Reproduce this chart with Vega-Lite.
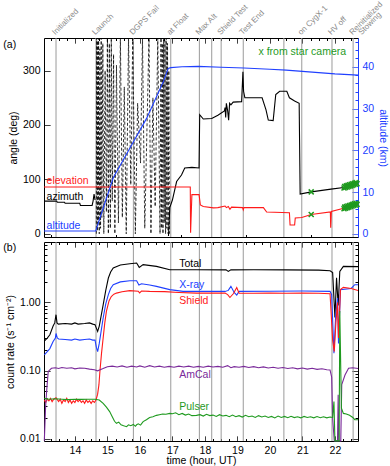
{
"$schema": "https://vega.github.io/schema/vega-lite/v6.json",
"padding": {"left": 2, "top": 0, "right": 2, "bottom": 0},
"spacing": 5,
"bounds": "flush",
"config": {
  "view": {"stroke": "black", "strokeWidth": 1},
  "font": "Liberation Sans",
  "axis": {"grid": false, "domain": false, "labelFont": "Liberation Sans", "titleFont": "Liberation Sans", "labelFontSize": 10.5, "titleFontSize": 10.5, "titleFontWeight": "normal", "tickColor": "black", "labelColor": "black", "titleColor": "black", "minExtent": 0},
  "text": {"font": "Liberation Sans"}
},
"datasets": {
  "events": [
    {"h": 13.42}, {"h": 14.65}, {"h": 15.80}, {"h": 16.95}, {"h": 17.83}, {"h": 18.21},
    {"h": 18.50}, {"h": 19.18}, {"h": 20.43}, {"h": 20.98}, {"h": 21.91}, {"h": 22.56}
  ],
  "elabels": [
    {"h": 13.42, "label": "Initialized"}, {"h": 14.65, "label": "Launch"}, {"h": 15.80, "label": "DGPS Fail"},
    {"h": 16.95, "label": "at Float"}, {"h": 17.83, "label": "Max Alt"}, {"h": 18.50, "label": "Shield Test"},
    {"h": 19.18, "label": "Test End"}, {"h": 20.98, "label": "on CygX-1"}, {"h": 21.91, "label": "HV off"},
    {"h": 22.56, "label": "Reinitialized"}, {"h": 22.84, "label": "Stowing"}
  ],
  "az": [
    {"seg": "pre", "h": 13.05, "deg": 60}, {"seg": "pre", "h": 13.44, "deg": 60}, {"seg": "pre", "h": 13.46, "deg": 58},
    {"seg": "pre", "h": 13.68, "deg": 58}, {"seg": "pre", "h": 13.70, "deg": 56}, {"seg": "pre", "h": 14.15, "deg": 56},
    {"seg": "pre", "h": 14.17, "deg": 52}, {"seg": "pre", "h": 14.53, "deg": 52}, {"seg": "pre", "h": 14.56, "deg": 60},
    {"seg": "pre", "h": 14.59, "deg": 73}, {"seg": "pre", "h": 14.62, "deg": 62},
    {"seg": "spin", "h": 14.66, "deg": 0}, {"seg": "spin", "h": 14.67, "deg": 360}, {"seg": "spin", "h": 14.69, "deg": 5},
    {"seg": "spin", "h": 14.70, "deg": 355}, {"seg": "spin", "h": 14.72, "deg": 20}, {"seg": "spin", "h": 14.73, "deg": 360},
    {"seg": "spin", "h": 14.75, "deg": 0}, {"seg": "spin", "h": 14.77, "deg": 340}, {"seg": "spin", "h": 14.79, "deg": 10},
    {"seg": "spin", "h": 14.81, "deg": 360}, {"seg": "spin", "h": 14.83, "deg": 30}, {"seg": "spin", "h": 14.86, "deg": 350},
    {"seg": "spin", "h": 14.89, "deg": 0}, {"seg": "spin", "h": 14.93, "deg": 300}, {"seg": "spin", "h": 14.97, "deg": 40},
    {"seg": "spin", "h": 15.00, "deg": 360}, {"seg": "spin", "h": 15.03, "deg": 0}, {"seg": "spin", "h": 15.06, "deg": 350},
    {"seg": "spin", "h": 15.09, "deg": 10}, {"seg": "spin", "h": 15.12, "deg": 360}, {"seg": "spin", "h": 15.15, "deg": 60},
    {"seg": "spin", "h": 15.19, "deg": 330}, {"seg": "spin", "h": 15.23, "deg": 0}, {"seg": "spin", "h": 15.28, "deg": 310},
    {"seg": "spin", "h": 15.34, "deg": 20}, {"seg": "spin", "h": 15.40, "deg": 360}, {"seg": "spin", "h": 15.46, "deg": 30},
    {"seg": "spin", "h": 15.52, "deg": 270}, {"seg": "spin", "h": 15.58, "deg": 0}, {"seg": "spin", "h": 15.65, "deg": 360},
    {"seg": "spin", "h": 15.72, "deg": 90}, {"seg": "spin", "h": 15.78, "deg": 360}, {"seg": "spin", "h": 15.86, "deg": 0},
    {"seg": "spin", "h": 15.93, "deg": 240}, {"seg": "spin", "h": 16.02, "deg": 130}, {"seg": "spin", "h": 16.08, "deg": 360},
    {"seg": "spin", "h": 16.15, "deg": 10}, {"seg": "spin", "h": 16.22, "deg": 200}, {"seg": "spin", "h": 16.28, "deg": 360},
    {"seg": "spin", "h": 16.34, "deg": 0}, {"seg": "spin", "h": 16.40, "deg": 250}, {"seg": "spin", "h": 16.47, "deg": 50},
    {"seg": "spin", "h": 16.55, "deg": 360}, {"seg": "spin", "h": 16.62, "deg": 0}, {"seg": "spin", "h": 16.65, "deg": 360},
    {"seg": "spin", "h": 16.67, "deg": 10}, {"seg": "spin", "h": 16.69, "deg": 350}, {"seg": "spin", "h": 16.71, "deg": 0},
    {"seg": "spin", "h": 16.73, "deg": 360}, {"seg": "spin", "h": 16.75, "deg": 20}, {"seg": "spin", "h": 16.77, "deg": 355},
    {"seg": "spin", "h": 16.79, "deg": 0}, {"seg": "spin", "h": 16.81, "deg": 360}, {"seg": "spin", "h": 16.83, "deg": 10},
    {"seg": "spin", "h": 16.85, "deg": 350}, {"seg": "spin", "h": 16.87, "deg": 0}, {"seg": "spin", "h": 16.89, "deg": 300},
    {"seg": "spin", "h": 16.91, "deg": 0},
    {"seg": "post", "h": 16.88, "deg": -4}, {"seg": "post", "h": 16.92, "deg": 48}, {"seg": "post", "h": 17.0, "deg": 62},
    {"seg": "post", "h": 17.13, "deg": 96}, {"seg": "post", "h": 17.28, "deg": 108}, {"seg": "post", "h": 17.38, "deg": 121},
    {"seg": "post", "h": 17.60, "deg": 122}, {"seg": "post", "h": 17.82, "deg": 121}, {"seg": "post", "h": 17.84, "deg": 219},
    {"seg": "post", "h": 17.95, "deg": 211}, {"seg": "post", "h": 18.21, "deg": 212}, {"seg": "post", "h": 18.40, "deg": 218},
    {"seg": "post", "h": 18.60, "deg": 226}, {"seg": "post", "h": 18.62, "deg": 232}, {"seg": "post", "h": 18.64, "deg": 214},
    {"seg": "post", "h": 18.66, "deg": 240}, {"seg": "post", "h": 18.70, "deg": 226}, {"seg": "post", "h": 18.73, "deg": 209},
    {"seg": "post", "h": 18.76, "deg": 240}, {"seg": "post", "h": 18.80, "deg": 237}, {"seg": "post", "h": 18.87, "deg": 242},
    {"seg": "post", "h": 19.13, "deg": 243}, {"seg": "post", "h": 19.17, "deg": 298}, {"seg": "post", "h": 19.19, "deg": 262},
    {"seg": "post", "h": 19.23, "deg": 250}, {"seg": "post", "h": 19.76, "deg": 250}, {"seg": "post", "h": 19.88, "deg": 228},
    {"seg": "post", "h": 19.95, "deg": 209}, {"seg": "post", "h": 20.10, "deg": 208}, {"seg": "post", "h": 20.18, "deg": 256},
    {"seg": "post", "h": 20.30, "deg": 262}, {"seg": "post", "h": 20.52, "deg": 262}, {"seg": "post", "h": 20.60, "deg": 250},
    {"seg": "post", "h": 20.76, "deg": 244}, {"seg": "post", "h": 20.90, "deg": 240}, {"seg": "post", "h": 20.93, "deg": 73},
    {"seg": "post", "h": 21.27, "deg": 77}, {"seg": "post", "h": 21.88, "deg": 82}, {"seg": "post", "h": 22.27, "deg": 85},
    {"seg": "post", "h": 22.70, "deg": 90}
  ],
  "el": [
    {"h": 13.05, "deg": 86}, {"h": 17.55, "deg": 86}, {"h": 17.56, "deg": 2}, {"h": 17.60, "deg": 72}, {"h": 17.82, "deg": 72},
    {"h": 17.86, "deg": 53}, {"h": 17.95, "deg": 50}, {"h": 18.26, "deg": 47.6}, {"h": 18.40, "deg": 48}, {"h": 18.62, "deg": 51},
    {"h": 18.66, "deg": 48}, {"h": 18.72, "deg": 50}, {"h": 18.77, "deg": 45}, {"h": 18.82, "deg": 49}, {"h": 19.16, "deg": 48},
    {"h": 19.18, "deg": 44}, {"h": 19.20, "deg": 48}, {"h": 19.80, "deg": 48}, {"h": 19.90, "deg": 40}, {"h": 20.60, "deg": 38.5},
    {"h": 20.62, "deg": 16}, {"h": 20.76, "deg": 16}, {"h": 20.78, "deg": 29}, {"h": 20.98, "deg": 30}, {"h": 21.27, "deg": 35.5},
    {"h": 21.86, "deg": 40}, {"h": 21.87, "deg": 11}, {"h": 21.89, "deg": 41}, {"h": 22.27, "deg": 47}, {"h": 22.70, "deg": 54}
  ],
  "star": [
    {"h": 21.27, "deg": 77}, {"h": 21.27, "deg": 35.5},
    {"h": 22.28, "deg": 84}, {"h": 22.30, "deg": 87}, {"h": 22.33, "deg": 85}, {"h": 22.35, "deg": 88}, {"h": 22.38, "deg": 86},
    {"h": 22.40, "deg": 89}, {"h": 22.43, "deg": 87}, {"h": 22.45, "deg": 90}, {"h": 22.48, "deg": 88}, {"h": 22.50, "deg": 91},
    {"h": 22.53, "deg": 89}, {"h": 22.55, "deg": 92}, {"h": 22.58, "deg": 90}, {"h": 22.60, "deg": 93}, {"h": 22.63, "deg": 91},
    {"h": 22.65, "deg": 94}, {"h": 22.68, "deg": 92},
    {"h": 22.28, "deg": 46}, {"h": 22.30, "deg": 49}, {"h": 22.33, "deg": 47}, {"h": 22.35, "deg": 50}, {"h": 22.38, "deg": 48},
    {"h": 22.40, "deg": 51}, {"h": 22.43, "deg": 49}, {"h": 22.45, "deg": 52}, {"h": 22.48, "deg": 50}, {"h": 22.50, "deg": 53},
    {"h": 22.53, "deg": 51}, {"h": 22.55, "deg": 54}, {"h": 22.58, "deg": 52}, {"h": 22.60, "deg": 55}, {"h": 22.63, "deg": 53},
    {"h": 22.65, "deg": 56}, {"h": 22.68, "deg": 54}
  ],
  "alt": [
    {"h": 13.05, "km": 0.65}, {"h": 14.64, "km": 0.65}, {"h": 15.18, "km": 13.4}, {"h": 15.69, "km": 20.5},
    {"h": 16.21, "km": 27.7}, {"h": 16.72, "km": 36.4}, {"h": 16.87, "km": 39.6}, {"h": 16.95, "km": 39.8},
    {"h": 17.3, "km": 40.0}, {"h": 17.8, "km": 40.1}, {"h": 18.5, "km": 39.9}, {"h": 19.2, "km": 39.7},
    {"h": 20.0, "km": 39.4}, {"h": 20.5, "km": 39.2}, {"h": 21.0, "km": 38.9}, {"h": 21.5, "km": 38.6},
    {"h": 22.0, "km": 38.3}, {"h": 22.71, "km": 38.0}
  ],
  "rates": [
    {"s": "Total", "h": 13.06, "v": 0.27}, {"s": "Total", "h": 13.15, "v": 0.3}, {"s": "Total", "h": 13.23, "v": 0.335},
    {"s": "Total", "h": 13.33, "v": 0.45}, {"s": "Total", "h": 13.38, "v": 0.5}, {"s": "Total", "h": 13.42, "v": 0.66},
    {"s": "Total", "h": 13.45, "v": 0.5}, {"s": "Total", "h": 13.49, "v": 0.48}, {"s": "Total", "h": 13.7, "v": 0.49},
    {"s": "Total", "h": 13.9, "v": 0.48}, {"s": "Total", "h": 14.0, "v": 0.5}, {"s": "Total", "h": 14.1, "v": 0.48},
    {"s": "Total", "h": 14.3, "v": 0.49}, {"s": "Total", "h": 14.45, "v": 0.5}, {"s": "Total", "h": 14.55, "v": 0.48},
    {"s": "Total", "h": 14.62, "v": 0.47}, {"s": "Total", "h": 14.66, "v": 0.42}, {"s": "Total", "h": 14.70, "v": 0.375},
    {"s": "Total", "h": 14.75, "v": 0.45}, {"s": "Total", "h": 14.87, "v": 0.92}, {"s": "Total", "h": 14.95, "v": 1.5},
    {"s": "Total", "h": 15.03, "v": 2.28}, {"s": "Total", "h": 15.1, "v": 2.8}, {"s": "Total", "h": 15.18, "v": 3.2},
    {"s": "Total", "h": 15.4, "v": 3.55}, {"s": "Total", "h": 15.69, "v": 3.7}, {"s": "Total", "h": 15.90, "v": 3.78},
    {"s": "Total", "h": 15.98, "v": 3.27}, {"s": "Total", "h": 16.1, "v": 3.58}, {"s": "Total", "h": 16.51, "v": 3.38},
    {"s": "Total", "h": 16.92, "v": 3.02}, {"s": "Total", "h": 17.74, "v": 3.02}, {"s": "Total", "h": 18.65, "v": 3.0},
    {"s": "Total", "h": 18.72, "v": 2.85}, {"s": "Total", "h": 18.8, "v": 3.0}, {"s": "Total", "h": 19.5, "v": 3.02},
    {"s": "Total", "h": 20.5, "v": 3.0}, {"s": "Total", "h": 21.5, "v": 2.98}, {"s": "Total", "h": 21.85, "v": 2.92},
    {"s": "Total", "h": 21.93, "v": 2.75}, {"s": "Total", "h": 22.0, "v": 0.6}, {"s": "Total", "h": 22.05, "v": 2.3},
    {"s": "Total", "h": 22.10, "v": 0.9}, {"s": "Total", "h": 22.15, "v": 2.85}, {"s": "Total", "h": 22.26, "v": 3.38},
    {"s": "Total", "h": 22.71, "v": 3.35},
    {"s": "X-ray", "h": 13.06, "v": 0.17}, {"s": "X-ray", "h": 13.15, "v": 0.19}, {"s": "X-ray", "h": 13.23, "v": 0.21},
    {"s": "X-ray", "h": 13.33, "v": 0.267}, {"s": "X-ray", "h": 13.4, "v": 0.3}, {"s": "X-ray", "h": 13.42, "v": 0.35},
    {"s": "X-ray", "h": 13.46, "v": 0.3}, {"s": "X-ray", "h": 13.5, "v": 0.29}, {"s": "X-ray", "h": 13.7, "v": 0.285},
    {"s": "X-ray", "h": 13.9, "v": 0.28}, {"s": "X-ray", "h": 14.0, "v": 0.29}, {"s": "X-ray", "h": 14.15, "v": 0.28},
    {"s": "X-ray", "h": 14.3, "v": 0.285}, {"s": "X-ray", "h": 14.45, "v": 0.29}, {"s": "X-ray", "h": 14.55, "v": 0.28},
    {"s": "X-ray", "h": 14.62, "v": 0.28}, {"s": "X-ray", "h": 14.66, "v": 0.22}, {"s": "X-ray", "h": 14.70, "v": 0.19},
    {"s": "X-ray", "h": 14.75, "v": 0.25}, {"s": "X-ray", "h": 14.87, "v": 0.59}, {"s": "X-ray", "h": 14.95, "v": 0.95},
    {"s": "X-ray", "h": 15.03, "v": 1.3}, {"s": "X-ray", "h": 15.1, "v": 1.6}, {"s": "X-ray", "h": 15.18, "v": 1.82},
    {"s": "X-ray", "h": 15.4, "v": 2.0}, {"s": "X-ray", "h": 15.69, "v": 2.08}, {"s": "X-ray", "h": 15.90, "v": 2.08},
    {"s": "X-ray", "h": 15.97, "v": 1.8}, {"s": "X-ray", "h": 16.05, "v": 1.88}, {"s": "X-ray", "h": 16.3, "v": 1.8},
    {"s": "X-ray", "h": 16.51, "v": 1.72}, {"s": "X-ray", "h": 16.92, "v": 1.54}, {"s": "X-ray", "h": 17.33, "v": 1.45},
    {"s": "X-ray", "h": 17.74, "v": 1.45}, {"s": "X-ray", "h": 18.62, "v": 1.45}, {"s": "X-ray", "h": 18.72, "v": 1.5},
    {"s": "X-ray", "h": 18.80, "v": 1.72}, {"s": "X-ray", "h": 18.90, "v": 1.4}, {"s": "X-ray", "h": 18.98, "v": 1.28},
    {"s": "X-ray", "h": 19.05, "v": 1.45}, {"s": "X-ray", "h": 20.0, "v": 1.46}, {"s": "X-ray", "h": 21.0, "v": 1.47},
    {"s": "X-ray", "h": 21.85, "v": 1.45}, {"s": "X-ray", "h": 21.9, "v": 1.3}, {"s": "X-ray", "h": 21.97, "v": 0.18},
    {"s": "X-ray", "h": 22.02, "v": 0.6}, {"s": "X-ray", "h": 22.08, "v": 1.16}, {"s": "X-ray", "h": 22.11, "v": 0.25},
    {"s": "X-ray", "h": 22.17, "v": 1.54}, {"s": "X-ray", "h": 22.5, "v": 1.6}, {"s": "X-ray", "h": 22.61, "v": 1.82},
    {"s": "X-ray", "h": 22.71, "v": 1.82},
    {"s": "Shield", "h": 13.06, "v": 0.037}, {"s": "Shield", "h": 13.1, "v": 0.034}, {"s": "Shield", "h": 13.15, "v": 0.038},
    {"s": "Shield", "h": 13.2, "v": 0.036}, {"s": "Shield", "h": 13.25, "v": 0.039}, {"s": "Shield", "h": 13.3, "v": 0.035},
    {"s": "Shield", "h": 13.35, "v": 0.038}, {"s": "Shield", "h": 13.42, "v": 0.04}, {"s": "Shield", "h": 13.5, "v": 0.035},
    {"s": "Shield", "h": 13.55, "v": 0.038}, {"s": "Shield", "h": 13.6, "v": 0.033}, {"s": "Shield", "h": 13.65, "v": 0.037},
    {"s": "Shield", "h": 13.7, "v": 0.035}, {"s": "Shield", "h": 13.75, "v": 0.039}, {"s": "Shield", "h": 13.8, "v": 0.034},
    {"s": "Shield", "h": 13.85, "v": 0.037}, {"s": "Shield", "h": 13.9, "v": 0.033}, {"s": "Shield", "h": 13.95, "v": 0.036},
    {"s": "Shield", "h": 14.0, "v": 0.034}, {"s": "Shield", "h": 14.05, "v": 0.038}, {"s": "Shield", "h": 14.1, "v": 0.035},
    {"s": "Shield", "h": 14.15, "v": 0.037}, {"s": "Shield", "h": 14.2, "v": 0.034}, {"s": "Shield", "h": 14.25, "v": 0.036},
    {"s": "Shield", "h": 14.3, "v": 0.033}, {"s": "Shield", "h": 14.35, "v": 0.037}, {"s": "Shield", "h": 14.4, "v": 0.034},
    {"s": "Shield", "h": 14.45, "v": 0.036}, {"s": "Shield", "h": 14.5, "v": 0.033}, {"s": "Shield", "h": 14.55, "v": 0.036},
    {"s": "Shield", "h": 14.6, "v": 0.034}, {"s": "Shield", "h": 14.65, "v": 0.037}, {"s": "Shield", "h": 14.7, "v": 0.045},
    {"s": "Shield", "h": 14.74, "v": 0.062}, {"s": "Shield", "h": 14.77, "v": 0.097}, {"s": "Shield", "h": 14.82, "v": 0.18},
    {"s": "Shield", "h": 14.87, "v": 0.30}, {"s": "Shield", "h": 14.92, "v": 0.5}, {"s": "Shield", "h": 14.97, "v": 0.74},
    {"s": "Shield", "h": 15.05, "v": 1.05}, {"s": "Shield", "h": 15.12, "v": 1.22}, {"s": "Shield", "h": 15.2, "v": 1.32},
    {"s": "Shield", "h": 15.28, "v": 1.37}, {"s": "Shield", "h": 15.45, "v": 1.43}, {"s": "Shield", "h": 15.69, "v": 1.49},
    {"s": "Shield", "h": 15.95, "v": 1.46}, {"s": "Shield", "h": 15.99, "v": 1.38}, {"s": "Shield", "h": 16.05, "v": 1.47},
    {"s": "Shield", "h": 16.3, "v": 1.45}, {"s": "Shield", "h": 16.76, "v": 1.44}, {"s": "Shield", "h": 17.2, "v": 1.4},
    {"s": "Shield", "h": 17.74, "v": 1.37}, {"s": "Shield", "h": 18.62, "v": 1.37}, {"s": "Shield", "h": 18.70, "v": 1.3},
    {"s": "Shield", "h": 18.77, "v": 1.18}, {"s": "Shield", "h": 18.88, "v": 1.35}, {"s": "Shield", "h": 18.98, "v": 1.65},
    {"s": "Shield", "h": 19.05, "v": 1.37}, {"s": "Shield", "h": 19.5, "v": 1.36}, {"s": "Shield", "h": 20.0, "v": 1.37},
    {"s": "Shield", "h": 20.5, "v": 1.36}, {"s": "Shield", "h": 21.0, "v": 1.37}, {"s": "Shield", "h": 21.5, "v": 1.36},
    {"s": "Shield", "h": 21.85, "v": 1.34}, {"s": "Shield", "h": 21.93, "v": 0.28}, {"s": "Shield", "h": 21.98, "v": 0.19},
    {"s": "Shield", "h": 22.03, "v": 0.5}, {"s": "Shield", "h": 22.08, "v": 1.0}, {"s": "Shield", "h": 22.11, "v": 0.3},
    {"s": "Shield", "h": 22.17, "v": 1.54}, {"s": "Shield", "h": 22.26, "v": 1.66}, {"s": "Shield", "h": 22.5, "v": 1.6},
    {"s": "Shield", "h": 22.71, "v": 1.5},
    {"s": "AmCal", "h": 13.06, "v": 0.0093}, {"s": "AmCal", "h": 13.1, "v": 0.03}, {"s": "AmCal", "h": 13.13, "v": 0.049},
    {"s": "AmCal", "h": 13.18, "v": 0.097}, {"s": "AmCal", "h": 13.28, "v": 0.108}, {"s": "AmCal", "h": 13.4, "v": 0.11},
    {"s": "AmCal", "h": 13.5, "v": 0.107}, {"s": "AmCal", "h": 13.6, "v": 0.111}, {"s": "AmCal", "h": 13.75, "v": 0.108},
    {"s": "AmCal", "h": 13.9, "v": 0.11}, {"s": "AmCal", "h": 14.0, "v": 0.106}, {"s": "AmCal", "h": 14.15, "v": 0.109},
    {"s": "AmCal", "h": 14.3, "v": 0.108}, {"s": "AmCal", "h": 14.45, "v": 0.105}, {"s": "AmCal", "h": 14.6, "v": 0.103},
    {"s": "AmCal", "h": 14.7, "v": 0.099}, {"s": "AmCal", "h": 14.85, "v": 0.106}, {"s": "AmCal", "h": 15.0, "v": 0.114},
    {"s": "AmCal", "h": 15.15, "v": 0.116}, {"s": "AmCal", "h": 15.3, "v": 0.113}, {"s": "AmCal", "h": 15.45, "v": 0.117},
    {"s": "AmCal", "h": 15.6, "v": 0.112}, {"s": "AmCal", "h": 15.75, "v": 0.116}, {"s": "AmCal", "h": 15.9, "v": 0.113},
    {"s": "AmCal", "h": 16.0, "v": 0.117}, {"s": "AmCal", "h": 16.15, "v": 0.112}, {"s": "AmCal", "h": 16.3, "v": 0.118},
    {"s": "AmCal", "h": 16.45, "v": 0.113}, {"s": "AmCal", "h": 16.6, "v": 0.116}, {"s": "AmCal", "h": 16.75, "v": 0.112},
    {"s": "AmCal", "h": 16.9, "v": 0.115}, {"s": "AmCal", "h": 17.05, "v": 0.112}, {"s": "AmCal", "h": 17.2, "v": 0.116},
    {"s": "AmCal", "h": 17.35, "v": 0.113}, {"s": "AmCal", "h": 17.5, "v": 0.116}, {"s": "AmCal", "h": 17.65, "v": 0.112},
    {"s": "AmCal", "h": 17.8, "v": 0.115}, {"s": "AmCal", "h": 17.95, "v": 0.112}, {"s": "AmCal", "h": 18.1, "v": 0.116},
    {"s": "AmCal", "h": 18.25, "v": 0.113}, {"s": "AmCal", "h": 18.4, "v": 0.115}, {"s": "AmCal", "h": 18.55, "v": 0.112},
    {"s": "AmCal", "h": 18.7, "v": 0.118}, {"s": "AmCal", "h": 18.8, "v": 0.11}, {"s": "AmCal", "h": 18.9, "v": 0.114},
    {"s": "AmCal", "h": 19.05, "v": 0.112}, {"s": "AmCal", "h": 19.2, "v": 0.115}, {"s": "AmCal", "h": 19.35, "v": 0.111},
    {"s": "AmCal", "h": 19.5, "v": 0.114}, {"s": "AmCal", "h": 19.65, "v": 0.11}, {"s": "AmCal", "h": 19.8, "v": 0.113},
    {"s": "AmCal", "h": 19.95, "v": 0.109}, {"s": "AmCal", "h": 20.1, "v": 0.112}, {"s": "AmCal", "h": 20.25, "v": 0.108},
    {"s": "AmCal", "h": 20.4, "v": 0.111}, {"s": "AmCal", "h": 20.55, "v": 0.107}, {"s": "AmCal", "h": 20.7, "v": 0.11},
    {"s": "AmCal", "h": 20.85, "v": 0.106}, {"s": "AmCal", "h": 21.0, "v": 0.109}, {"s": "AmCal", "h": 21.15, "v": 0.105},
    {"s": "AmCal", "h": 21.3, "v": 0.108}, {"s": "AmCal", "h": 21.45, "v": 0.104}, {"s": "AmCal", "h": 21.6, "v": 0.106},
    {"s": "AmCal", "h": 21.75, "v": 0.103}, {"s": "AmCal", "h": 21.85, "v": 0.102}, {"s": "AmCal", "h": 21.9, "v": 0.08},
    {"s": "AmCal", "h": 21.93, "v": 0.02}, {"s": "AmCal", "h": 21.98, "v": 0.0093}, {"s": "AmCal", "h": 22.08, "v": 0.0093},
    {"s": "AmCal", "h": 22.1, "v": 0.044}, {"s": "AmCal", "h": 22.12, "v": 0.0093}, {"s": "AmCal", "h": 22.18, "v": 0.0093},
    {"s": "AmCal", "h": 22.21, "v": 0.062}, {"s": "AmCal", "h": 22.31, "v": 0.086}, {"s": "AmCal", "h": 22.42, "v": 0.108},
    {"s": "AmCal", "h": 22.55, "v": 0.11}, {"s": "AmCal", "h": 22.71, "v": 0.107},
    {"s": "Pulser", "h": 13.06, "v": 0.039}, {"s": "Pulser", "h": 13.2, "v": 0.038}, {"s": "Pulser", "h": 13.4, "v": 0.0385},
    {"s": "Pulser", "h": 13.6, "v": 0.038}, {"s": "Pulser", "h": 13.8, "v": 0.0375}, {"s": "Pulser", "h": 14.0, "v": 0.038},
    {"s": "Pulser", "h": 14.2, "v": 0.0378}, {"s": "Pulser", "h": 14.4, "v": 0.038}, {"s": "Pulser", "h": 14.62, "v": 0.038},
    {"s": "Pulser", "h": 14.75, "v": 0.037}, {"s": "Pulser", "h": 14.87, "v": 0.033}, {"s": "Pulser", "h": 14.97, "v": 0.029},
    {"s": "Pulser", "h": 15.07, "v": 0.025}, {"s": "Pulser", "h": 15.15, "v": 0.021}, {"s": "Pulser", "h": 15.22, "v": 0.018},
    {"s": "Pulser", "h": 15.28, "v": 0.0168}, {"s": "Pulser", "h": 15.35, "v": 0.0175}, {"s": "Pulser", "h": 15.42, "v": 0.016},
    {"s": "Pulser", "h": 15.5, "v": 0.0155}, {"s": "Pulser", "h": 15.59, "v": 0.015}, {"s": "Pulser", "h": 15.65, "v": 0.016},
    {"s": "Pulser", "h": 15.72, "v": 0.0155}, {"s": "Pulser", "h": 15.8, "v": 0.0162}, {"s": "Pulser", "h": 15.86, "v": 0.0152},
    {"s": "Pulser", "h": 15.9, "v": 0.016}, {"s": "Pulser", "h": 15.95, "v": 0.0165}, {"s": "Pulser", "h": 16.02, "v": 0.0158},
    {"s": "Pulser", "h": 16.1, "v": 0.0178}, {"s": "Pulser", "h": 16.2, "v": 0.019}, {"s": "Pulser", "h": 16.3, "v": 0.0205},
    {"s": "Pulser", "h": 16.4, "v": 0.021}, {"s": "Pulser", "h": 16.51, "v": 0.022}, {"s": "Pulser", "h": 16.6, "v": 0.0225},
    {"s": "Pulser", "h": 16.7, "v": 0.023}, {"s": "Pulser", "h": 16.8, "v": 0.0228}, {"s": "Pulser", "h": 16.92, "v": 0.0235},
    {"s": "Pulser", "h": 17.0, "v": 0.0232}, {"s": "Pulser", "h": 17.1, "v": 0.024}, {"s": "Pulser", "h": 17.2, "v": 0.0225},
    {"s": "Pulser", "h": 17.3, "v": 0.0235}, {"s": "Pulser", "h": 17.4, "v": 0.0222}, {"s": "Pulser", "h": 17.5, "v": 0.023},
    {"s": "Pulser", "h": 17.6, "v": 0.0218}, {"s": "Pulser", "h": 17.74, "v": 0.022}, {"s": "Pulser", "h": 17.85, "v": 0.0225},
    {"s": "Pulser", "h": 17.95, "v": 0.0215}, {"s": "Pulser", "h": 18.05, "v": 0.0228}, {"s": "Pulser", "h": 18.15, "v": 0.0218},
    {"s": "Pulser", "h": 18.25, "v": 0.0222}, {"s": "Pulser", "h": 18.35, "v": 0.0212}, {"s": "Pulser", "h": 18.45, "v": 0.0225},
    {"s": "Pulser", "h": 18.55, "v": 0.0215}, {"s": "Pulser", "h": 18.65, "v": 0.022}, {"s": "Pulser", "h": 18.75, "v": 0.021},
    {"s": "Pulser", "h": 18.85, "v": 0.0222}, {"s": "Pulser", "h": 18.95, "v": 0.021}, {"s": "Pulser", "h": 19.05, "v": 0.0218},
    {"s": "Pulser", "h": 19.15, "v": 0.0208}, {"s": "Pulser", "h": 19.25, "v": 0.022}, {"s": "Pulser", "h": 19.35, "v": 0.021},
    {"s": "Pulser", "h": 19.45, "v": 0.0215}, {"s": "Pulser", "h": 19.55, "v": 0.0205}, {"s": "Pulser", "h": 19.65, "v": 0.0218},
    {"s": "Pulser", "h": 19.75, "v": 0.0208}, {"s": "Pulser", "h": 19.85, "v": 0.0215}, {"s": "Pulser", "h": 19.95, "v": 0.0205},
    {"s": "Pulser", "h": 20.05, "v": 0.0212}, {"s": "Pulser", "h": 20.15, "v": 0.0202}, {"s": "Pulser", "h": 20.25, "v": 0.0215},
    {"s": "Pulser", "h": 20.35, "v": 0.0205}, {"s": "Pulser", "h": 20.45, "v": 0.0212}, {"s": "Pulser", "h": 20.55, "v": 0.0203},
    {"s": "Pulser", "h": 20.65, "v": 0.0213}, {"s": "Pulser", "h": 20.75, "v": 0.0204}, {"s": "Pulser", "h": 20.85, "v": 0.021},
    {"s": "Pulser", "h": 20.95, "v": 0.0202}, {"s": "Pulser", "h": 21.05, "v": 0.0212}, {"s": "Pulser", "h": 21.15, "v": 0.0205},
    {"s": "Pulser", "h": 21.25, "v": 0.021}, {"s": "Pulser", "h": 21.35, "v": 0.0202}, {"s": "Pulser", "h": 21.45, "v": 0.0211},
    {"s": "Pulser", "h": 21.55, "v": 0.0203}, {"s": "Pulser", "h": 21.65, "v": 0.021}, {"s": "Pulser", "h": 21.75, "v": 0.0202},
    {"s": "Pulser", "h": 21.85, "v": 0.0208}, {"s": "Pulser", "h": 21.93, "v": 0.0205}, {"s": "Pulser", "h": 21.97, "v": 0.035},
    {"s": "Pulser", "h": 22.0, "v": 0.0093}, {"s": "Pulser", "h": 22.13, "v": 0.0093}, {"s": "Pulser", "h": 22.15, "v": 0.75},
    {"s": "Pulser", "h": 22.2, "v": 0.028}, {"s": "Pulser", "h": 22.26, "v": 0.0235}, {"s": "Pulser", "h": 22.35, "v": 0.023},
    {"s": "Pulser", "h": 22.45, "v": 0.022}, {"s": "Pulser", "h": 22.55, "v": 0.0205}, {"s": "Pulser", "h": 22.61, "v": 0.019},
    {"s": "Pulser", "h": 22.71, "v": 0.019}
  ],
  "blabels": [
    {"s": "Total", "h": 17.21, "v": 3.66}, {"s": "X-ray", "h": 17.21, "v": 1.82}, {"s": "Shield", "h": 17.21, "v": 1.06},
    {"s": "AmCal", "h": 17.21, "v": 0.087}, {"s": "Pulser", "h": 17.21, "v": 0.029}
  ]
},
"vconcat": [
  {
    "width": 314, "height": 199,
    "layer": [
      {
        "layer": [
          {"data": {"name": "events"}, "mark": {"type": "rule", "color": "#9a9a9a", "strokeWidth": 1},
           "encoding": {"x": {"field": "h", "type": "quantitative", "scale": {"domain": [13.05, 22.71], "nice": false, "zero": false},
             "axis": {"values": [13.25, 13.5, 13.75, 14, 14.25, 14.5, 14.75, 15, 15.25, 15.5, 15.75, 16, 16.25, 16.5, 16.75, 17, 17.25, 17.5, 17.75, 18, 18.25, 18.5, 18.75, 19, 19.25, 19.5, 19.75, 20, 20.25, 20.5, 20.75, 21, 21.25, 21.5, 21.75, 22, 22.25, 22.5],
               "labels": false, "tickSize": -5, "tickDash": {"condition": {"test": "datum.value % 1 != 0", "value": [2.5, 20]}, "value": [1, 0]}, "title": null}}}},
          {"data": {"name": "elabels"},
           "mark": {"type": "text", "angle": -45, "align": "left", "baseline": "bottom", "color": "#8a8a8a", "fontSize": 8, "dx": 1},
           "encoding": {"x": {"field": "h", "type": "quantitative"},
             "y": {"datum": 361, "type": "quantitative", "scale": {"domain": [-6, 360], "nice": false, "zero": false}},
             "text": {"field": "label"}}},
          {"data": {"name": "az"}, "transform": [{"filter": "datum.seg != 'spin'"}],
           "mark": {"type": "line", "color": "black", "strokeWidth": 1.1},
           "encoding": {"x": {"field": "h", "type": "quantitative"},
             "y": {"field": "deg", "type": "quantitative", "scale": {"domain": [-6, 360], "nice": false, "zero": false},
               "axis": {"values": [0, 50, 100, 150, 200, 250, 300, 350], "labelExpr": "datum.value % 100 == 0 ? datum.label : ''",
                 "tickSize": -6, "tickDash": {"condition": {"test": "datum.value % 100 != 0", "value": [3, 20]}, "value": [1, 0]},
                 "labelPadding": 10, "title": "angle (deg)", "titlePadding": 4}},
             "detail": {"field": "seg"}}},
          {"data": {"name": "az"}, "transform": [{"filter": "datum.seg == 'spin'"}],
           "mark": {"type": "line", "color": "black", "strokeWidth": 0.8, "strokeDash": [3, 2]},
           "encoding": {"x": {"field": "h", "type": "quantitative"}, "y": {"field": "deg", "type": "quantitative"}}},
          {"data": {"name": "el"}, "mark": {"type": "line", "color": "#ff1a1a", "strokeWidth": 1.1},
           "encoding": {"x": {"field": "h", "type": "quantitative"}, "y": {"field": "deg", "type": "quantitative"}}},
          {"data": {"name": "star"}, "mark": {"type": "point", "shape": "M-1,-1L1,1M-1,1L1,-1", "filled": false, "color": "#1f9a1f", "strokeWidth": 1.5, "size": 25, "opacity": 1},
           "encoding": {"x": {"field": "h", "type": "quantitative"}, "y": {"field": "deg", "type": "quantitative"}}},
          {"data": {"values": [{"h": 13.13, "deg": 96.5, "t": "elevation"}]}, "mark": {"type": "text", "align": "left", "color": "#ff1a1a", "fontSize": 10.5},
           "encoding": {"x": {"field": "h", "type": "quantitative"}, "y": {"field": "deg", "type": "quantitative"}, "text": {"field": "t"}}},
          {"data": {"values": [{"h": 13.13, "deg": 67, "t": "azimuth"}, {"h": 11.8, "deg": 348, "t": "(a)"}]}, "mark": {"type": "text", "align": "left", "color": "black", "fontSize": 10.5},
           "encoding": {"x": {"field": "h", "type": "quantitative"}, "y": {"field": "deg", "type": "quantitative"}, "text": {"field": "t"}}},
          {"data": {"values": [{"h": 13.13, "deg": 14, "t": "altitude"}]}, "mark": {"type": "text", "align": "left", "color": "#2040ff", "fontSize": 10.5},
           "encoding": {"x": {"field": "h", "type": "quantitative"}, "y": {"field": "deg", "type": "quantitative"}, "text": {"field": "t"}}},
          {"data": {"values": [{"h": 19.65, "deg": 334, "t": "x from star camera"}]}, "mark": {"type": "text", "align": "left", "color": "#1f9a1f", "fontSize": 10.5},
           "encoding": {"x": {"field": "h", "type": "quantitative"}, "y": {"field": "deg", "type": "quantitative"}, "text": {"field": "t"}}}
        ]
      },
      {"data": {"name": "alt"}, "mark": {"type": "line", "color": "#2040ff", "strokeWidth": 1.1},
       "encoding": {"x": {"field": "h", "type": "quantitative",
           "axis": {"orient": "top", "values": [13.25, 13.5, 13.75, 14, 14.25, 14.5, 14.75, 15, 15.25, 15.5, 15.75, 16, 16.25, 16.5, 16.75, 17, 17.25, 17.5, 17.75, 18, 18.25, 18.5, 18.75, 19, 19.25, 19.5, 19.75, 20, 20.25, 20.5, 20.75, 21, 21.25, 21.5, 21.75, 22, 22.25, 22.5],
             "labels": false, "tickSize": -5, "tickDash": {"condition": {"test": "datum.value % 1 != 0", "value": [2.5, 20]}, "value": [1, 0]}, "title": null}},
         "y": {"field": "km", "type": "quantitative", "scale": {"domain": [-0.78, 46.9], "nice": false, "zero": false},
           "axis": {"orient": "right", "values": [0, 2, 4, 6, 8, 10, 12, 14, 16, 18, 20, 22, 24, 26, 28, 30, 32, 34, 36, 38, 40, 42, 44, 46],
             "labelExpr": "datum.value % 10 == 0 ? datum.label : ''",
             "tickSize": -6, "tickDash": {"condition": {"test": "datum.value % 10 != 0", "value": [3, 20]}, "value": [1, 0]},
             "labelPadding": 10, "tickColor": "#2040ff", "labelColor": "#2040ff", "title": "altitude (km)", "titleColor": "#2040ff", "titlePadding": 4, "domain": true, "domainColor": "#2040ff"}}}}
    ],
    "resolve": {"scale": {"y": "independent"}, "axis": {"x": "independent"}}
  },
  {
    "width": 314, "height": 199,
    "layer": [
      {"data": {"name": "events"}, "mark": {"type": "rule", "color": "#9a9a9a", "strokeWidth": 1},
       "encoding": {"x": {"field": "h", "type": "quantitative", "scale": {"domain": [13.05, 22.71], "nice": false, "zero": false},
         "axis": {"values": [13.25, 13.5, 13.75, 14, 14.25, 14.5, 14.75, 15, 15.25, 15.5, 15.75, 16, 16.25, 16.5, 16.75, 17, 17.25, 17.5, 17.75, 18, 18.25, 18.5, 18.75, 19, 19.25, 19.5, 19.75, 20, 20.25, 20.5, 20.75, 21, 21.25, 21.5, 21.75, 22, 22.25, 22.5],
           "labelExpr": "datum.value % 1 == 0 ? format(datum.value, 'd') : ''",
           "tickSize": -5, "tickDash": {"condition": {"test": "datum.value % 1 != 0", "value": [2.5, 20]}, "value": [1, 0]},
           "labelPadding": 9, "title": "time (hour, UT)", "titlePadding": 0}}}},
      {"data": {"name": "rates"}, "mark": {"type": "line", "strokeWidth": 1.1},
       "encoding": {"x": {"field": "h", "type": "quantitative", "axis": null},
         "y": {"field": "v", "type": "quantitative", "scale": {"type": "log", "domain": [0.00925, 7.7], "nice": false, "zero": false},
           "axis": {"values": [0.01, 0.02, 0.03, 0.04, 0.05, 0.06, 0.07, 0.08, 0.09, 0.1, 0.2, 0.3, 0.4, 0.5, 0.6, 0.7, 0.8, 0.9, 1, 2, 3, 4, 5, 6, 7],
             "labelExpr": "indexof([0.01, 0.1, 1], datum.value) >= 0 ? format(datum.value, '.2f') : ''",
             "tickSize": -6, "tickDash": {"condition": {"test": "indexof([0.01, 0.1, 1], datum.value) < 0", "value": [3, 20]}, "value": [1, 0]},
             "labelPadding": 10, "title": "count rate (s⁻¹ cm⁻²)", "titlePadding": 4}},
         "color": {"field": "s", "type": "nominal", "scale": {"domain": ["Total", "X-ray", "Shield", "AmCal", "Pulser"], "range": ["#000000", "#2040ff", "#ff1a1a", "#7a2a9a", "#1f9a1f"]}, "legend": null}}},
      {"data": {"name": "blabels"}, "mark": {"type": "text", "align": "left", "fontSize": 10.5},
       "encoding": {"x": {"field": "h", "type": "quantitative",
           "axis": {"orient": "top", "values": [13.25, 13.5, 13.75, 14, 14.25, 14.5, 14.75, 15, 15.25, 15.5, 15.75, 16, 16.25, 16.5, 16.75, 17, 17.25, 17.5, 17.75, 18, 18.25, 18.5, 18.75, 19, 19.25, 19.5, 19.75, 20, 20.25, 20.5, 20.75, 21, 21.25, 21.5, 21.75, 22, 22.25, 22.5],
             "labels": false, "tickSize": -5, "tickDash": {"condition": {"test": "datum.value % 1 != 0", "value": [2.5, 20]}, "value": [1, 0]}, "title": null}},
         "y": {"field": "v", "type": "quantitative",
           "axis": {"orient": "right", "values": [0.01, 0.02, 0.03, 0.04, 0.05, 0.06, 0.07, 0.08, 0.09, 0.1, 0.2, 0.3, 0.4, 0.5, 0.6, 0.7, 0.8, 0.9, 1, 2, 3, 4, 5, 6, 7],
             "labels": false, "tickSize": -6, "tickDash": {"condition": {"test": "indexof([0.01, 0.1, 1], datum.value) < 0", "value": [3, 20]}, "value": [1, 0]}, "title": null}},
         "text": {"field": "s"}, "color": {"field": "s", "type": "nominal", "legend": null}}},
      {"data": {"values": [{"h": 11.8, "v": 6.3, "t": "(b)"}]}, "mark": {"type": "text", "align": "left", "color": "black", "fontSize": 10.5},
       "encoding": {"x": {"field": "h", "type": "quantitative", "axis": null}, "y": {"field": "v", "type": "quantitative", "axis": null}, "text": {"field": "t"}}}
    ],
    "resolve": {"axis": {"x": "independent", "y": "independent"}}
  }
]
}
